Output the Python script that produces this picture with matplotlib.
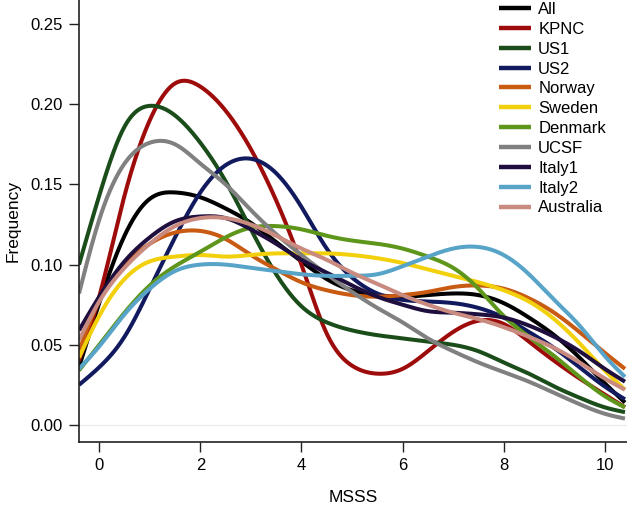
import numpy as np
import matplotlib
matplotlib.use("Agg")
import matplotlib.pyplot as plt

plt.rcParams['font.family'] = ['Liberation Sans', 'DejaVu Sans']

# MSSS grid at which curve values were read
msss = [-0.4, 0, 0.5, 1, 1.5, 2, 2.5, 3, 3.5, 4, 4.5, 5, 5.5, 6, 6.5, 7, 7.5, 8, 8.5, 9, 9.5, 10, 10.4]

all_cohorts = [0.036, 0.076, 0.118, 0.141, 0.145, 0.142, 0.135, 0.126, 0.114, 0.102, 0.091, 0.084,
               0.081, 0.080, 0.081, 0.082, 0.081, 0.076, 0.067, 0.056, 0.042, 0.026, 0.014]
kpnc = [0.040, 0.080, 0.143, 0.190, 0.213, 0.211, 0.196, 0.172, 0.140, 0.100, 0.057, 0.037,
        0.032, 0.035, 0.046, 0.058, 0.065, 0.063, 0.052, 0.040, 0.029, 0.019, 0.011]
us1 = [0.100, 0.143, 0.186, 0.199, 0.193, 0.176, 0.152, 0.122, 0.094, 0.074, 0.064, 0.059,
       0.056, 0.054, 0.052, 0.050, 0.046, 0.039, 0.032, 0.024, 0.017, 0.011, 0.008]
us2 = [0.025, 0.036, 0.055, 0.085, 0.117, 0.145, 0.162, 0.166, 0.157, 0.136, 0.110, 0.092,
       0.082, 0.078, 0.077, 0.076, 0.073, 0.067, 0.058, 0.048, 0.036, 0.024, 0.016]
norway = [0.046, 0.078, 0.100, 0.113, 0.120, 0.121, 0.116, 0.106, 0.097, 0.089, 0.084, 0.081,
          0.080, 0.081, 0.083, 0.086, 0.087, 0.085, 0.079, 0.070, 0.058, 0.045, 0.035]
sweden = [0.042, 0.068, 0.091, 0.102, 0.105, 0.106, 0.105, 0.106, 0.107, 0.107, 0.107, 0.106,
          0.104, 0.101, 0.097, 0.093, 0.089, 0.084, 0.077, 0.066, 0.051, 0.034, 0.022]
denmark = [0.034, 0.050, 0.070, 0.087, 0.099, 0.108, 0.117, 0.123, 0.124, 0.122, 0.118, 0.115,
           0.113, 0.110, 0.105, 0.098, 0.085, 0.068, 0.055, 0.043, 0.030, 0.018, 0.011]
ucsf = [0.082, 0.128, 0.163, 0.176, 0.175, 0.163, 0.150, 0.134, 0.119, 0.106, 0.094, 0.083,
        0.073, 0.064, 0.054, 0.046, 0.039, 0.033, 0.027, 0.020, 0.013, 0.007, 0.004]
italy1 = [0.059, 0.080, 0.102, 0.117, 0.127, 0.130, 0.129, 0.122, 0.113, 0.103, 0.095, 0.087,
          0.080, 0.075, 0.071, 0.070, 0.069, 0.067, 0.062, 0.055, 0.046, 0.035, 0.027]
italy2 = [0.035, 0.049, 0.069, 0.085, 0.096, 0.100, 0.100, 0.098, 0.096, 0.094, 0.093, 0.093,
          0.094, 0.099, 0.105, 0.110, 0.111, 0.106, 0.094, 0.078, 0.062, 0.043, 0.030]
australia = [0.053, 0.077, 0.098, 0.113, 0.124, 0.129, 0.129, 0.125, 0.118, 0.110, 0.103, 0.095,
             0.088, 0.081, 0.075, 0.070, 0.066, 0.061, 0.055, 0.048, 0.039, 0.029, 0.022]

labels = ["All", "KPNC", "US1", "US2", "Norway", "Sweden", "Denmark", "UCSF", "Italy1", "Italy2", "Australia"]
series = [all_cohorts, kpnc, us1, us2, norway, sweden, denmark, ucsf, italy1, italy2, australia]
colors = ["#000000", "#9e0b0b", "#1b4d1b", "#111a5e", "#c85a12", "#f2d00c", "#5e961c",
          "#808080", "#1f0f3f", "#58a4c8", "#c98a80"]
xticks = [0, 2, 4, 6, 8, 10]
yticks = [0.00, 0.05, 0.10, 0.15, 0.20, 0.25]


def natural_spline(x, y, xs):
    x = np.asarray(x, float)
    y = np.asarray(y, float)
    n = len(x)
    h = np.diff(x)
    A = np.zeros((n, n))
    b = np.zeros(n)
    A[0, 0] = 1
    A[-1, -1] = 1
    for i in range(1, n - 1):
        A[i, i - 1] = h[i - 1]
        A[i, i] = 2 * (h[i - 1] + h[i])
        A[i, i + 1] = h[i]
        b[i] = 3 * ((y[i + 1] - y[i]) / h[i] - (y[i] - y[i - 1]) / h[i - 1])
    c = np.linalg.solve(A, b)
    idx = np.clip(np.searchsorted(x, xs) - 1, 0, n - 2)
    dx = xs - x[idx]
    hi = h[idx]
    bb = (y[idx + 1] - y[idx]) / hi - hi * (2 * c[idx] + c[idx + 1]) / 3
    d = (c[idx + 1] - c[idx]) / (3 * hi)
    return y[idx] + bb * dx + c[idx] * dx ** 2 + d * dx ** 3


fig = plt.figure(figsize=(6.27, 5.05), dpi=100)
ax = fig.add_axes([79 / 627, 1 - 442.3 / 505, 1 - 79 / 627, 442.3 / 505])

ax.axhline(0, color="#ececec", lw=1.0, zorder=0)

xs = np.linspace(msss[0], msss[-1], 600)
for lab, ys, col in zip(labels, series, colors):
    ax.plot(xs, natural_spline(msss, ys, xs), color=col, lw=2.9, label=lab,
            solid_capstyle="butt")

ax.set_xlim(-0.40, 10.44)
ax.set_ylim(-0.0108, 0.265)
ax.set_xticks(xticks)
ax.set_xticklabels([str(t) for t in xticks])
ax.set_yticks(yticks)
ax.set_yticklabels([f"{t:.2f}" for t in yticks])
ax.tick_params(direction="out", length=7.5, width=1.0, labelsize=12, color="#222222", pad=4)
for s in ["top", "right"]:
    ax.spines[s].set_visible(False)
for s in ["left", "bottom"]:
    ax.spines[s].set_linewidth(1.2)
    ax.spines[s].set_color("#222222")

ax.set_xlabel("MSSS", fontsize=12.5, labelpad=12)
ax.set_ylabel("Frequency", fontsize=12.5, labelpad=7)

leg = fig.legend(loc="upper left", bbox_to_anchor=(499 / 627, 1 - 2 / 505),
                 bbox_transform=fig.transFigure, frameon=False, fontsize=12,
                 handlelength=1.9, handletextpad=0.45, labelspacing=0.29, borderpad=0,
                 borderaxespad=0)
for line in leg.get_lines():
    line.set_linewidth(3.2)

fig.savefig("out.png", dpi=100)
